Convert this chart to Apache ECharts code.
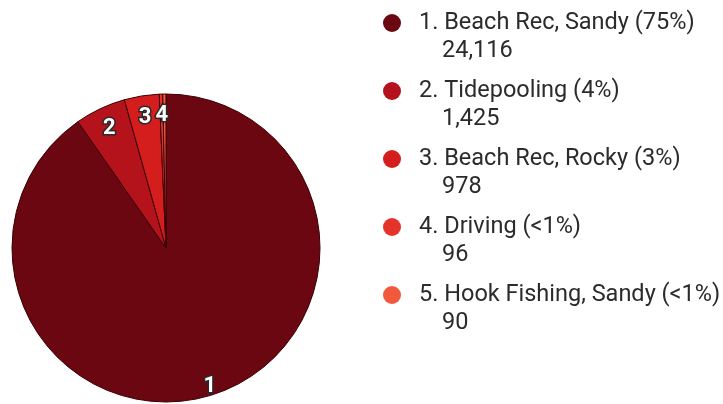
<!DOCTYPE html>
<html>
<head>
<meta charset="utf-8">
<script src="https://cdn.jsdelivr.net/npm/echarts@6/dist/echarts.min.js"></script>
<style>
html,body{margin:0;padding:0;background:#fff;}
#chart{width:723px;height:404px;}
</style>
</head>
<body>
<div id="chart"></div>
<script>
const names = ['Beach Rec, Sandy', 'Tidepooling', 'Beach Rec, Rocky', 'Driving', 'Hook Fishing, Sandy'];
const values = [24116, 1425, 978, 96, 90];
const pctLabels = ['75%', '4%', '3%', '<1%', '<1%'];
const sliceLabels = ['1', '2', '3', '4', ''];
const colors = ['#6b0710', '#b5131b', '#d41d1d', '#e6332a', '#f0593b'];

const chart = echarts.init(document.getElementById('chart'));
const fmt = v => v.toLocaleString('en-US');

const rich = {
  name: { fontSize: 23.5, lineHeight: 28, color: '#2b2b2b', fontFamily: 'Roboto', padding: [0, 0, 0, 18] },
  val: { fontSize: 23.5, lineHeight: 28, color: '#2b2b2b', fontFamily: 'Roboto', padding: [0, 0, 0, 59] }
};
colors.forEach((c, i) => {
  rich['dot' + i] = { width: 18, height: 18, borderRadius: 9, backgroundColor: c };
});

const pieData = names.map((n, i) => ({ name: n, value: values[i], itemStyle: { color: colors[i] } }));
const labelData = names.map((n, i) => {
  const d = { name: n, value: values[i] };
  if (!sliceLabels[i]) d.label = { show: false };
  if (i === 0) d.label = { offset: [4, 12] };
  return d;
});

chart.setOption({
  animation: false,
  backgroundColor: '#fff',
  legend: {
    orient: 'vertical',
    left: 378,
    top: 11,
    padding: 0,
    itemGap: 16,
    itemWidth: 0,
    itemHeight: 0,
    icon: 'none',
    selectedMode: false,
    data: names,
    formatter: function (n) {
      const i = names.indexOf(n);
      return '{dot' + i + '|}{name|' + (i + 1) + '. ' + n + ' (' + pctLabels[i] + ')}\n{val|' + fmt(values[i]) + '}';
    },
    textStyle: { rich: rich, fontFamily: 'Roboto' }
  },
  series: [
    {
      type: 'pie',
      center: [166, 248],
      radius: 154,
      startAngle: 90,
      clockwise: true,
      silent: true,
      label: { show: false },
      labelLine: { show: false },
      itemStyle: { borderColor: '#3a0005', borderWidth: 1 },
      data: pieData
    },
    {
      type: 'pie',
      center: [166, 248],
      radius: [111, 148],
      startAngle: 90,
      clockwise: true,
      silent: true,
      legendHoverLink: false,
      minShowLabelAngle: 0,
      itemStyle: { color: 'rgba(0,0,0,0)', borderWidth: 0 },
      label: {
        show: true,
        position: 'inside',
        formatter: p => sliceLabels[p.dataIndex],
        color: '#fff',
        fontFamily: 'Roboto',
        fontWeight: 'bold',
        fontSize: 22,
        textBorderColor: '#2a2a2a',
        textBorderWidth: 3
      },
      labelLine: { show: false },
      data: labelData
    }
  ]
});
</script>
</body>
</html>
